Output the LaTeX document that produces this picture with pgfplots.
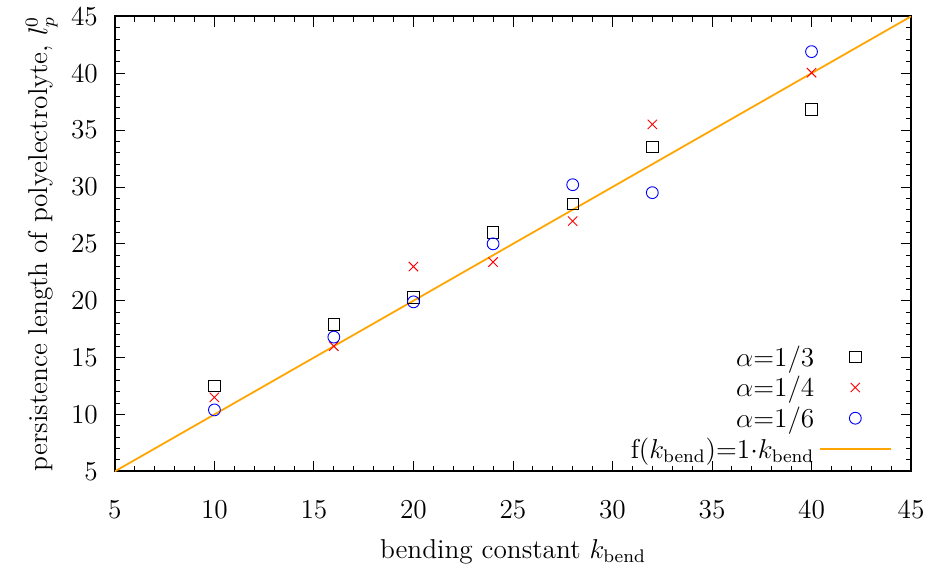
\documentclass[border=0pt]{standalone}
\usepackage{pgfplots}
\pgfplotsset{compat=1.18}
\definecolor{cOrange}{RGB}{255,165,0}
\begin{document}
\begin{tikzpicture}[font=\large]
\begin{axis}[
    scale only axis,
    width=350pt, height=200pt,
    xmin=5, xmax=45, ymin=5, ymax=45,
    xtick={5,10,...,45}, ytick={5,10,...,45},
    minor tick num=4,
    tick align=inside,
    major tick length=4.5pt, minor tick length=2.4pt,
    tick style={black, line width=0.4pt},
    axis line style={line width=0.8pt},
    tick label style={font=\large},
    xticklabel style={yshift=-9.5pt},
    yticklabel style={xshift=-4pt},
    label style={font=\large},
    xlabel={bending constant $k_\mathrm{bend}$},
    ylabel={persistence length of polyelectrolyte, $l_p^0$},
    xlabel style={yshift=-2.5pt},
    ylabel style={yshift=-1pt},
    legend plot pos=right,
    legend cell align=right,
    legend style={draw=none, fill=none, at={(0.985,0.0)}, anchor=south east,
                  row sep=-1pt, font=\large},
    legend image code/.code={\draw[mark repeat=2,mark phase=2,yshift=0.4pt] plot coordinates {(0cm,0cm) (0.55cm,0cm) (1.1cm,0cm)};},
]
\addplot[only marks, mark=square, mark size=2.5pt, black] coordinates {
 (10,12.5) (16,17.9) (20,20.3) (24,26.0) (28,28.5) (32,33.5) (40,36.8)};
\addlegendentry{$\alpha{=}1/3$}
\addplot[only marks, mark=x, mark size=2.9pt, red] coordinates {
 (10,11.5) (16,16.0) (20,23.0) (24,23.4) (28,27.0) (32,35.5) (40,40.05)};
\addlegendentry{$\alpha{=}1/4$}
\addplot[only marks, mark=o, mark size=2.6pt, blue] coordinates {
 (10,10.4) (16,16.8) (20,19.9) (24,25.0) (28,30.2) (32,29.5) (40,41.9)};
\addlegendentry{$\alpha{=}1/6$}
\addplot[cOrange, line width=0.8pt, no marks] coordinates {(5,5) (45,45)};
\addlegendentry{f($k_\mathrm{bend}$)$=$1$\cdot k_\mathrm{bend}$}
\end{axis}
\path (current bounding box.south west) ++(-8pt,-2pt);
\end{tikzpicture}
\end{document}
